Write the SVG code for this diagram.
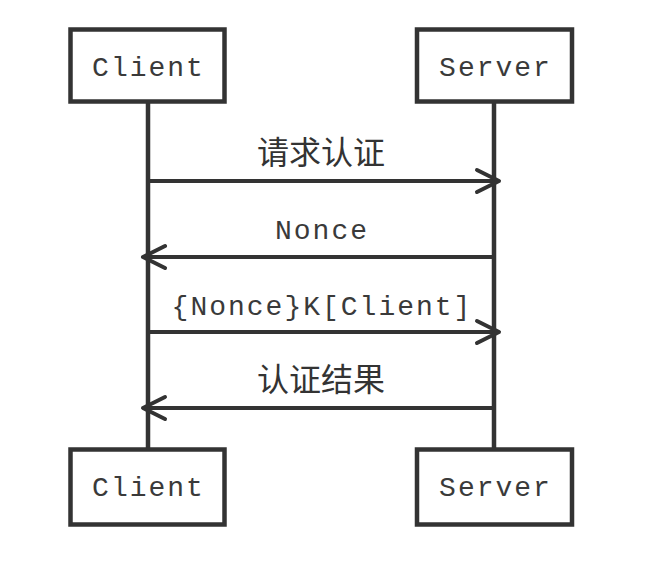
<svg xmlns="http://www.w3.org/2000/svg" width="655" height="566" viewBox="0 0 655 566">
<style>
.box{fill:#fff;stroke:#333;stroke-width:4.5}
.life{stroke:#333;stroke-width:4.5;fill:none}
.msg{stroke:#333;stroke-width:4;fill:none}
.mono{font-family:"Liberation Mono","Courier New",monospace;font-size:28px;letter-spacing:2px;fill:#3a3a3a;text-anchor:middle}
.cjk{font-family:"Noto Sans CJK SC","Noto Sans",sans-serif;font-size:32px;fill:#333;text-anchor:middle}
</style>
<defs>
<marker id="arr" markerUnits="userSpaceOnUse" markerWidth="40" markerHeight="40" viewBox="-30 -20 40 40" refX="0" refY="0" orient="auto" overflow="visible">
<path d="M-22,-11 L0,0 L-22,11" fill="none" stroke="#333" stroke-width="4" stroke-linecap="round" stroke-linejoin="round"/>
</marker>
</defs>
<rect width="655" height="566" fill="#fff"/>
<g id="lifelines">
<line class="life" x1="148" y1="101" x2="148" y2="450"/>
<line class="life" x1="494" y1="101" x2="494" y2="450"/>
</g>
<g id="connectors">
<line class="msg" x1="148" y1="181" x2="499" y2="181" marker-end="url(#arr)"/>
<line class="msg" x1="494" y1="257" x2="143" y2="257" marker-end="url(#arr)"/>
<line class="msg" x1="148" y1="332" x2="499" y2="332" marker-end="url(#arr)"/>
<line class="msg" x1="494" y1="408" x2="143" y2="408" marker-end="url(#arr)"/>
<text class="cjk" x="321" y="164">请求认证</text>
<text class="mono" x="322" y="239">Nonce</text>
<text class="mono" x="322" y="315">{Nonce}K[Client]</text>
<text class="cjk" x="321" y="391">认证结果</text>
</g>
<g id="client-top">
<rect class="box" x="70.5" y="29.5" width="154" height="72"/>
<text class="mono" x="148.5" y="76">Client</text>
</g>
<g id="server-top">
<rect class="box" x="417" y="29.5" width="155" height="72"/>
<text class="mono" x="495.5" y="76">Server</text>
</g>
<g id="client-bottom">
<rect class="box" x="70.5" y="449.5" width="154" height="75"/>
<text class="mono" x="148.5" y="496">Client</text>
</g>
<g id="server-bottom">
<rect class="box" x="417" y="449.5" width="155" height="75"/>
<text class="mono" x="495.5" y="496">Server</text>
</g>
</svg>
